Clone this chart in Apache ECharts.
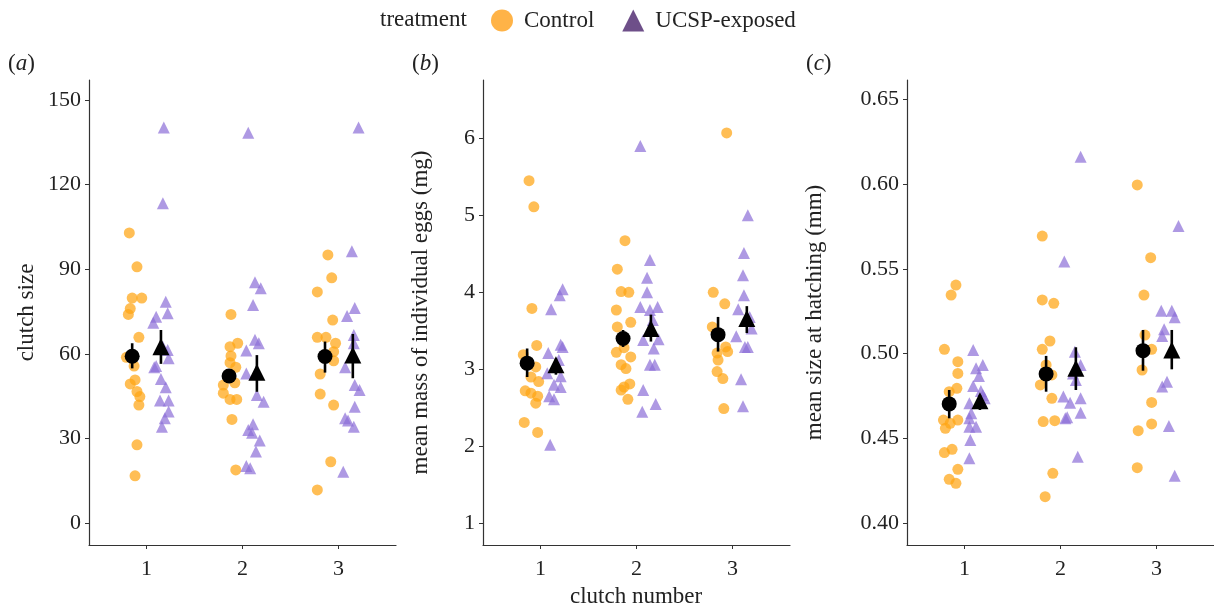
<!DOCTYPE html>
<html>
<head>
<meta charset="utf-8">
<script src="https://cdn.jsdelivr.net/npm/echarts@6/dist/echarts.min.js"></script>
<style>
  html, body { margin: 0; padding: 0; background: #fff; }
  #myChart { width: 1214px; height: 611px; }
</style>
</head>
<body>
<div id="myChart"></div>
<script>
// clutch positions 1,2,3 ; points are [jittered x, value]
var categories = [1, 2, 3];

// (a) clutch size
var ctrlA = [
  [0.82, 102.9], [0.90, 90.9], [0.85, 79.8], [0.95, 79.8], [0.83, 76.1], [0.81, 74.0], [0.92, 65.9],
  [0.79, 58.8], [0.86, 58.9], [0.87, 55.7], [0.88, 50.8], [0.83, 49.4], [0.90, 46.7], [0.93, 44.9],
  [0.92, 41.9], [0.90, 27.8], [0.88, 16.8],
  [1.88, 74.0], [1.87, 62.6], [1.95, 63.8], [1.88, 59.3], [1.87, 56.9], [1.93, 55.3], [1.80, 49.0],
  [1.92, 49.8], [1.80, 46.1], [1.87, 43.9], [1.94, 43.9], [1.89, 36.8], [1.93, 18.9],
  [2.89, 95.1], [2.93, 87.0], [2.78, 82.0], [2.94, 72.0], [2.78, 65.9], [2.87, 65.9], [2.97, 63.8],
  [2.95, 60.8], [2.95, 57.6], [2.81, 52.9], [2.81, 45.8], [2.95, 41.9], [2.92, 21.8], [2.78, 11.8]
];
var ucspA = [
  [1.18, 140.3], [1.17, 113.4], [1.20, 78.5], [1.22, 74.4], [1.10, 73.2], [1.07, 71.1], [1.17, 62.6],
  [1.22, 61.4], [1.23, 58.5], [1.10, 55.7], [1.08, 55.3], [1.15, 51.1], [1.20, 48.2], [1.14, 43.5],
  [1.23, 43.5], [1.23, 39.6], [1.19, 37.2], [1.16, 34.2],
  [2.06, 138.4], [2.13, 85.4], [2.19, 83.3], [2.11, 77.4], [2.13, 65.0], [2.17, 63.8], [2.04, 61.2],
  [2.04, 53.1], [2.15, 45.5], [2.22, 43.1], [2.11, 35.1], [2.06, 33.1], [2.10, 32.1], [2.18, 29.3],
  [2.14, 25.4], [2.04, 20.3], [2.08, 19.5],
  [3.21, 140.3], [3.14, 96.4], [3.17, 76.3], [3.09, 73.5], [3.16, 66.7], [3.16, 63.8], [3.07, 55.3],
  [3.17, 49.0], [3.22, 47.2], [3.17, 41.3], [3.07, 37.2], [3.10, 36.4], [3.16, 34.2], [3.05, 18.3]
];
var meanCtrlA = [[0.85, 59.2, 54.9, 63.8], [1.86, 52.2, 51.1, 53.4], [2.86, 59.1, 53.4, 64.4]];
var meanUcspA = [[1.15, 62.6, 56.5, 68.5], [2.15, 53.5, 46.6, 59.6], [3.15, 59.6, 51.4, 67.1]];
var ticksA = [0, 30, 60, 90, 120, 150];

// (b) mean mass of individual eggs (mg)
var ctrlB = [
  [0.88, 5.45], [0.93, 5.11], [0.91, 3.79], [0.96, 3.31], [0.82, 3.19], [0.95, 3.03], [0.90, 2.90],
  [0.98, 2.84], [0.84, 2.72], [0.90, 2.69], [0.97, 2.65], [0.95, 2.56], [0.83, 2.31], [0.97, 2.18],
  [1.88, 4.67], [1.80, 4.30], [1.84, 4.01], [1.92, 4.00], [1.79, 3.77], [1.94, 3.61], [1.80, 3.55],
  [1.79, 3.22], [1.87, 3.28], [1.94, 3.16], [1.84, 3.06], [1.89, 3.01], [1.93, 2.81], [1.87, 2.77],
  [1.84, 2.73], [1.91, 2.61],
  [2.94, 6.07], [2.80, 4.00], [2.92, 3.85], [2.79, 3.55], [2.93, 3.29], [2.95, 3.23], [2.84, 3.21],
  [2.85, 3.12], [2.84, 2.97], [2.90, 2.88], [2.91, 2.49]
];
var ucspB = [
  [1.23, 4.04], [1.20, 3.96], [1.11, 3.78], [1.21, 3.32], [1.23, 3.29], [1.08, 3.21], [1.19, 3.12],
  [1.07, 2.95], [1.21, 2.91], [1.14, 2.80], [1.21, 2.77], [1.09, 2.65], [1.14, 2.61], [1.10, 2.02],
  [2.04, 5.90], [2.14, 4.42], [2.11, 4.19], [2.11, 4.00], [2.04, 3.81], [2.14, 3.77], [2.22, 3.81],
  [2.17, 3.64], [2.07, 3.38], [2.23, 3.39], [2.18, 3.27], [2.14, 3.06], [2.19, 3.06], [2.07, 2.73],
  [2.20, 2.55], [2.06, 2.45],
  [3.16, 5.00], [3.12, 4.51], [3.11, 4.22], [3.12, 3.96], [3.06, 3.78], [3.18, 3.68], [3.20, 3.53],
  [3.04, 3.43], [3.16, 3.29], [3.13, 3.29], [3.09, 2.87], [3.11, 2.52]
];
var meanCtrlB = [[0.86, 3.08, 2.90, 3.27], [1.86, 3.40, 3.29, 3.51], [2.85, 3.45, 3.23, 3.68]];
var meanUcspB = [[1.16, 3.06, 2.93, 3.14], [2.15, 3.53, 3.36, 3.71], [3.15, 3.66, 3.47, 3.82]];
var ticksB = [1, 2, 3, 4, 5, 6];

// (c) mean size at hatching (mm)
var ctrlC = [
  [0.91, 0.5405], [0.86, 0.5346], [0.79, 0.5026], [0.93, 0.4953], [0.93, 0.4884], [0.84, 0.4776],
  [0.92, 0.4796], [0.78, 0.4609], [0.93, 0.4609], [0.85, 0.4590], [0.80, 0.4560], [0.79, 0.4417],
  [0.87, 0.4436], [0.93, 0.4318], [0.84, 0.4259], [0.91, 0.4236],
  [1.81, 0.5694], [1.81, 0.5317], [1.93, 0.5297], [1.89, 0.5075], [1.81, 0.5026], [1.85, 0.4934],
  [1.79, 0.4816], [1.91, 0.4875], [1.91, 0.4737], [1.82, 0.4600], [1.94, 0.4605], [1.92, 0.4295],
  [1.84, 0.4157],
  [2.80, 0.5995], [2.94, 0.5566], [2.87, 0.5346], [2.88, 0.5110], [2.95, 0.5026], [2.85, 0.4904],
  [2.95, 0.4713], [2.95, 0.4586], [2.81, 0.4546], [2.80, 0.4328]
];
var ucspC = [
  [1.09, 0.5022], [1.12, 0.4914], [1.19, 0.4934], [1.15, 0.4869], [1.09, 0.4810], [1.19, 0.4757],
  [1.17, 0.4780], [1.21, 0.4737], [1.05, 0.4708], [1.07, 0.4649], [1.05, 0.4619], [1.12, 0.4570],
  [1.05, 0.4570], [1.06, 0.4491], [1.05, 0.4383],
  [2.21, 0.6162], [2.04, 0.5543], [2.15, 0.5012], [2.21, 0.4934], [2.13, 0.4884], [2.16, 0.4845],
  [2.03, 0.4747], [2.10, 0.4711], [2.21, 0.4737], [2.07, 0.4625], [2.05, 0.4619], [2.21, 0.4652],
  [2.18, 0.4393],
  [3.23, 0.5753], [3.05, 0.5254], [3.16, 0.5254], [3.19, 0.5215], [3.08, 0.5144], [3.06, 0.5104],
  [3.11, 0.4835], [3.06, 0.4806], [3.13, 0.4574], [3.19, 0.4281]
];
var meanCtrlC = [[0.84, 0.4704, 0.4619, 0.4786], [1.85, 0.4881, 0.4776, 0.4987], [2.86, 0.5018, 0.4900, 0.5140]];
var meanUcspC = [[1.16, 0.4723, 0.4668, 0.4757], [2.16, 0.4914, 0.4786, 0.5038], [3.16, 0.5022, 0.4908, 0.5140]];
var ticksC = [0.40, 0.45, 0.50, 0.55, 0.60, 0.65];

var serif = "Liberation Serif";
var orange = "rgba(255,165,20,0.72)";
var purple = "rgba(140,110,215,0.7)";

var panels = [
  { ctrl: ctrlA, ucsp: ucspA, mc: meanCtrlA, mu: meanUcspA, ticks: ticksA, min: -7.7, max: 157.1,
    name: "clutch size", left: 89, gap: 51, fmt: function (v) { return String(Math.round(v)); } },
  { ctrl: ctrlB, ucsp: ucspB, mc: meanCtrlB, mu: meanUcspB, ticks: ticksB, min: 0.718, max: 6.757,
    name: "mean mass of individual eggs (mg)", left: 483, gap: 51, fmt: function (v) { return String(Math.round(v)); } },
  { ctrl: ctrlC, ucsp: ucspC, mc: meanCtrlC, mu: meanUcspC, ticks: ticksC, min: 0.3872, max: 0.6614,
    name: "mean size at hatching (mm)", left: 907, gap: 81, fmt: function (v) { return v.toFixed(2); } }
];

var grids = [], xAxes = [], yAxes = [], series = [];
var axisLine = { show: true, onZero: false, lineStyle: { color: "#333", width: 1.2 } };
var axisTick = { show: true, length: 4, lineStyle: { color: "#333", width: 1 } };

function errBar(params, api) {
  var lo = api.coord([api.value(0), api.value(2)]);
  var hi = api.coord([api.value(0), api.value(3)]);
  return { type: "line", shape: { x1: lo[0], y1: lo[1], x2: hi[0], y2: hi[1] },
           style: { stroke: "#000", lineWidth: 2.6 } };
}

panels.forEach(function (p, i) {
  grids.push({ left: p.left, top: 80, width: 307, height: 465 });
  xAxes.push({
    type: "value", gridIndex: i, min: 0.4, max: 3.6,
    axisLine: axisLine, splitLine: { show: false },
    axisTick: Object.assign({ customValues: categories }, axisTick),
    axisLabel: { customValues: categories, fontFamily: serif, fontSize: 22, color: "#222", margin: 13 }
  });
  yAxes.push({
    type: "value", gridIndex: i, min: p.min, max: p.max,
    name: p.name, nameLocation: "middle", nameGap: p.gap,
    nameTextStyle: { fontFamily: serif, fontSize: 23, color: "#222" },
    axisLine: axisLine, splitLine: { show: false },
    axisTick: Object.assign({ customValues: p.ticks }, axisTick),
    axisLabel: { customValues: p.ticks, formatter: p.fmt, fontFamily: serif, fontSize: 22, color: "#222", margin: 8 }
  });
  series.push({ name: "Control", type: "scatter", xAxisIndex: i, yAxisIndex: i, data: p.ctrl,
    symbol: "circle", symbolSize: 11, itemStyle: { color: orange, opacity: 1 }, z: 2 });
  series.push({ name: "UCSP-exposed", type: "scatter", xAxisIndex: i, yAxisIndex: i, data: p.ucsp,
    symbol: "triangle", symbolSize: 12, itemStyle: { color: purple, opacity: 1 }, z: 2 });
  series.push({ type: "custom", xAxisIndex: i, yAxisIndex: i, data: p.mc.concat(p.mu),
    renderItem: errBar, z: 5, silent: true });
  series.push({ type: "scatter", xAxisIndex: i, yAxisIndex: i, data: p.mc,
    symbol: "circle", symbolSize: 15, itemStyle: { color: "#000", opacity: 1 }, z: 6 });
  series.push({ type: "scatter", xAxisIndex: i, yAxisIndex: i, data: p.mu,
    symbol: "triangle", symbolSize: 17, itemStyle: { color: "#000", opacity: 1 }, z: 6 });
});

function letter(x, ch) {
  return { type: "text", left: x, top: 52,
    style: { text: "(" + "{i|" + ch + "})", fontFamily: serif, fontSize: 23, fill: "#222",
      rich: { i: { fontStyle: "italic", fontFamily: serif, fontSize: 23, fill: "#222" } } } };
}

var chart = echarts.init(document.getElementById("myChart"));
chart.setOption({
  backgroundColor: "#fff",
  animation: false,
  grid: grids,
  xAxis: xAxes,
  yAxis: yAxes,
  legend: {
    left: 486, top: 4, itemWidth: 22, itemHeight: 22, itemGap: 28,
    textStyle: { fontFamily: serif, fontSize: 23, color: "#222", padding: [0, 0, 0, 6] },
    data: [
      { name: "Control", icon: "circle", itemStyle: { color: "#FFB347" } },
      { name: "UCSP-exposed", icon: "triangle", itemStyle: { color: "#6E4F89" } }
    ]
  },
  graphic: [
    { type: "text", left: 380, top: 8, style: { text: "treatment", fontFamily: serif, fontSize: 23, fill: "#222" } },
    { type: "text", left: 570, top: 585, style: { text: "clutch number", fontFamily: serif, fontSize: 23, fill: "#222" } },
    letter(8, "a"), letter(412, "b"), letter(806, "c")
  ],
  series: series
});
</script>
</body>
</html>
